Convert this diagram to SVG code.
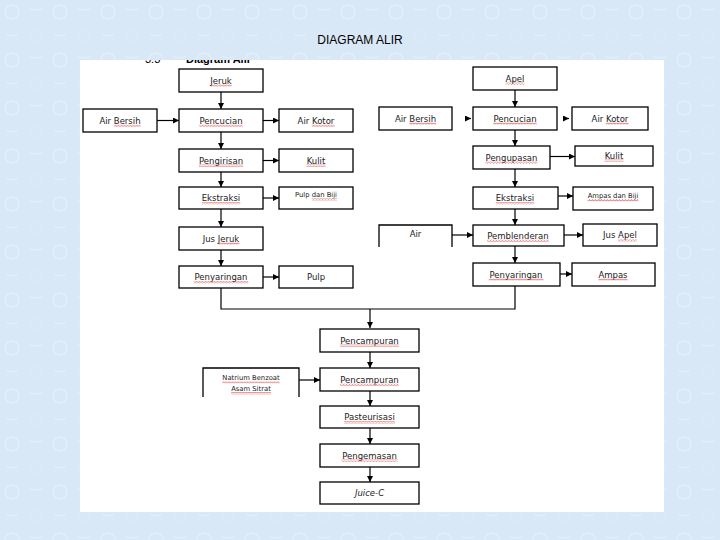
<svg xmlns="http://www.w3.org/2000/svg" width="720" height="540" viewBox="0 0 720 540">
<defs>
<style>
.bx{fill:#fff;stroke:#000;stroke-width:1.3}
.op{fill:none;stroke:#000;stroke-width:1.3}
.t{font-family:"DejaVu Sans",Verdana,sans-serif;font-size:8.5px;fill:#222;text-anchor:middle}
.s{font-size:6.8px}
.sq{fill:url(#sqp)}
.ln{fill:none;stroke:#000;stroke-width:1.2}
.ar{fill:none;stroke:#000;stroke-width:1.2;marker-end:url(#ah)}
</style>
<marker id="ah" viewBox="0 0 10 10" refX="10" refY="5" markerWidth="6" markerHeight="6" markerUnits="userSpaceOnUse" orient="auto">
<path d="M0,0 L10,5 L0,10 z" fill="#000"/>
</marker>
<pattern id="sqp" width="3" height="2.4" patternUnits="userSpaceOnUse">
<path d="M0,2 L1.5,0.5 L3,2" fill="none" stroke="#d42020" stroke-width="0.7"/>
</pattern>
<pattern id="bgp" width="48" height="48" patternUnits="userSpaceOnUse">
<rect width="48" height="48" fill="#d9e8f6"/>
<circle cx="12" cy="12" r="7" fill="none" stroke="#e4eefa" stroke-width="1.5"/>
<circle cx="36" cy="36" r="6" fill="none" stroke="#e0ebf8" stroke-width="1.2"/>
<path d="M30,8 q6,4 12,0 M6,34 q6,4 12,0" fill="none" stroke="#e6f0fb" stroke-width="1"/>
</pattern>
<clipPath id="cl"><rect x="80" y="60" width="584" height="10"/></clipPath>
</defs>
<rect width="720" height="540" fill="url(#bgp)"/>
<text x="360" y="44" font-family="'Liberation Sans',Arial,sans-serif" font-size="12px" text-anchor="middle" fill="#000">DIAGRAM ALIR</text>
<rect x="80" y="60" width="584" height="452" fill="#fff"/>
<g clip-path="url(#cl)">
<text x="145" y="63" font-family="'Liberation Sans',Arial,sans-serif" font-size="11px" fill="#000">3.3</text>
<text x="186" y="63" font-family="'Liberation Sans',Arial,sans-serif" font-size="11px" font-weight="bold" fill="#000">Diagram Alir</text>
</g>

<g id="connectors">
<line class="ar" x1="221" y1="92" x2="221" y2="109"/>
<line class="ar" x1="221" y1="132" x2="221" y2="149"/>
<line class="ar" x1="221" y1="172" x2="221" y2="187"/>
<line class="ar" x1="221" y1="209" x2="221" y2="227"/>
<line class="ar" x1="221" y1="250" x2="221" y2="266"/>
<line class="ar" x1="157" y1="120.5" x2="179" y2="120.5"/>
<line class="ar" x1="263" y1="120.5" x2="279" y2="120.5"/>
<line class="ar" x1="263" y1="160.5" x2="279" y2="160.5"/>
<line class="ar" x1="263" y1="198" x2="279" y2="198"/>
<line class="ar" x1="263" y1="277" x2="279" y2="277"/>
<line class="ar" x1="515" y1="90" x2="515" y2="107"/>
<line class="ar" x1="515" y1="130" x2="515" y2="146"/>
<line class="ar" x1="515" y1="169" x2="515" y2="187"/>
<line class="ar" x1="515" y1="209" x2="515" y2="225"/>
<line class="ar" x1="515" y1="246" x2="515" y2="263"/>
<line class="ar" x1="465" y1="118.5" x2="471" y2="118.5"/>
<line class="ar" x1="563" y1="118.5" x2="569" y2="118.5"/>
<line class="ar" x1="550" y1="156.5" x2="575" y2="156.5"/>
<line class="ar" x1="558" y1="196" x2="573" y2="196"/>
<line class="ar" x1="452" y1="235" x2="473" y2="235"/>
<line class="ar" x1="564" y1="235" x2="583" y2="235"/>
<line class="ar" x1="560" y1="274" x2="572" y2="274"/>
<polyline class="ln" points="221,288 221,309 515,309 515,286"/>
<line class="ar" x1="370" y1="309" x2="370" y2="328"/>
<line class="ar" x1="370" y1="352" x2="370" y2="368"/>
<line class="ar" x1="299" y1="380" x2="320" y2="380"/>
<line class="ar" x1="370" y1="391" x2="370" y2="406"/>
<line class="ar" x1="370" y1="428" x2="370" y2="444"/>
<line class="ar" x1="370" y1="467" x2="370" y2="482"/>
</g>

<g id="jeruk"><rect class="bx" x="179" y="69" width="84" height="23"/><text class="t" x="221" y="83.5">Jeruk</text><rect class="sq" x="210.2" y="84.5" width="21.5" height="2.4"/></g>
<g id="airbersih1"><rect class="bx" x="83" y="109" width="74" height="23"/><text class="t" x="120" y="123.5">Air Bersih</text><rect class="sq" x="113.9" y="124.5" width="26.7" height="2.4"/></g>
<g id="pencucian1"><rect class="bx" x="179" y="109" width="84" height="23"/><text class="t" x="221" y="123.5">Pencucian</text><rect class="sq" x="199.3" y="124.5" width="43.4" height="2.4"/></g>
<g id="airkotor1"><rect class="bx" x="279" y="109" width="74" height="23"/><text class="t" x="316" y="123.5">Air Kotor</text><rect class="sq" x="311.8" y="124.5" width="22.8" height="2.4"/></g>
<g id="pengirisan"><rect class="bx" x="179" y="149" width="84" height="23"/><text class="t" x="221" y="163.5">Pengirisan</text><rect class="sq" x="198.8" y="164.5" width="44.4" height="2.4"/></g>
<g id="kulit1"><rect class="bx" x="279" y="149" width="74" height="23"/><text class="t" x="316" y="163.5">Kulit</text><rect class="sq" x="306.5" y="164.5" width="19" height="2.4"/></g>
<g id="ekstraksi1"><rect class="bx" x="179" y="187" width="84" height="22"/><text class="t" x="221" y="201">Ekstraksi</text><rect class="sq" x="201.8" y="202" width="38.5" height="2.4"/></g>
<g id="pulpbiji"><rect class="bx" x="279" y="187" width="74" height="22"/><text class="t s" x="316" y="197">Pulp dan Biji</text><rect class="sq" x="311.7" y="198" width="25.3" height="2.4"/></g>
<g id="jusjeruk"><rect class="bx" x="179" y="227" width="84" height="23"/><text class="t" x="221" y="241.5">Jus Jeruk</text><rect class="sq" x="217.8" y="242.5" width="21.5" height="2.4"/></g>
<g id="penyaringan1"><rect class="bx" x="179" y="266" width="84" height="22"/><text class="t" x="221" y="280">Penyaringan</text><rect class="sq" x="193.8" y="281" width="54.5" height="2.4"/></g>
<g id="pulp"><rect class="bx" x="279" y="266" width="74" height="22"/><text class="t" x="316" y="280">Pulp</text></g>

<g id="apel"><rect class="bx" x="473" y="67" width="84" height="23"/><text class="t" x="515" y="81.5">Apel</text><rect class="sq" x="505.6" y="82.5" width="18.8" height="2.4"/></g>
<g id="airbersih2"><rect class="bx" x="379" y="107" width="73" height="23"/><text class="t" x="415.5" y="121.5">Air Bersih</text><rect class="sq" x="409.4" y="122.5" width="26.7" height="2.4"/></g>
<g id="pencucian2"><rect class="bx" x="473" y="107" width="84" height="23"/><text class="t" x="515" y="121.5">Pencucian</text><rect class="sq" x="493.3" y="122.5" width="43.4" height="2.4"/></g>
<g id="airkotor2"><rect class="bx" x="572" y="107" width="76" height="23"/><text class="t" x="610" y="121.5">Air Kotor</text><rect class="sq" x="605.8" y="122.5" width="22.8" height="2.4"/></g>
<g id="pengupasan"><rect class="bx" x="473" y="146" width="77" height="23"/><text class="t" x="511.5" y="160.5">Pengupasan</text><rect class="sq" x="485.4" y="161.5" width="52.2" height="2.4"/></g>
<g id="kulit2"><rect class="bx" x="575" y="146" width="78" height="20"/><text class="t" x="614" y="158.5">Kulit</text><rect class="sq" x="604.5" y="159.5" width="19" height="2.4"/></g>
<g id="ekstraksi2"><rect class="bx" x="473" y="187" width="85" height="22"/><text class="t" x="515" y="201">Ekstraksi</text><rect class="sq" x="495.8" y="202" width="38.5" height="2.4"/></g>
<g id="ampasbiji"><rect class="bx" x="573" y="187" width="80" height="23"/><text class="t s" x="613" y="198">Ampas dan Biji</text><rect class="sq" x="587.7" y="199" width="50.7" height="2.4"/></g>
<g id="air"><polyline class="op" points="379,247 379,225 452,225 452,247"/><text class="t" x="415.5" y="237">Air</text></g>
<g id="pemblenderan"><rect class="bx" x="473" y="225" width="91" height="21"/><text class="t" x="518" y="238.5">Pemblenderan</text><rect class="sq" x="487.2" y="239.5" width="61.7" height="2.4"/></g>
<g id="jusapel"><rect class="bx" x="583" y="224" width="74" height="22"/><text class="t" x="620" y="238">Jus Apel</text><rect class="sq" x="618.1" y="239" width="18.8" height="2.4"/></g>
<g id="penyaringan2"><rect class="bx" x="473" y="263" width="87" height="23"/><text class="t" x="516" y="277.5">Penyaringan</text><rect class="sq" x="488.8" y="278.5" width="54.5" height="2.4"/></g>
<g id="ampas"><rect class="bx" x="572" y="263" width="83" height="23"/><text class="t" x="613" y="277.5">Ampas</text><rect class="sq" x="598.5" y="278.5" width="29.1" height="2.4"/></g>

<g id="pencampuran1"><rect class="bx" x="320" y="329" width="99" height="23"/><text class="t" x="369.5" y="343.5">Pencampuran</text><rect class="sq" x="340.1" y="344.5" width="58.8" height="2.4"/></g>
<g id="natrium"><polyline class="op" points="203,397 203,368 299,368 299,397"/><text class="t s" x="251" y="380">Natrium Benzoat</text><rect class="sq" x="222.3" y="381" width="57.4" height="2.4"/><text class="t s" x="251" y="391">Asam Sitrat</text><rect class="sq" x="231.2" y="392" width="39.6" height="2.4"/></g>
<g id="pencampuran2"><rect class="bx" x="320" y="368" width="99" height="23"/><text class="t" x="369.5" y="382.5">Pencampuran</text><rect class="sq" x="340.1" y="383.5" width="58.8" height="2.4"/></g>
<g id="pasteurisasi"><rect class="bx" x="320" y="406" width="99" height="22"/><text class="t" x="369.5" y="420">Pasteurisasi</text><rect class="sq" x="344" y="421" width="51" height="2.4"/></g>
<g id="pengemasan"><rect class="bx" x="320" y="444" width="99" height="23"/><text class="t" x="369.5" y="458.5">Pengemasan</text><rect class="sq" x="341.5" y="459.5" width="56.1" height="2.4"/></g>
<g id="juicec"><rect class="bx" x="320" y="482" width="99" height="22"/><text class="t" x="369.5" y="496" font-style="italic">Juice-C</text></g>
</svg>
